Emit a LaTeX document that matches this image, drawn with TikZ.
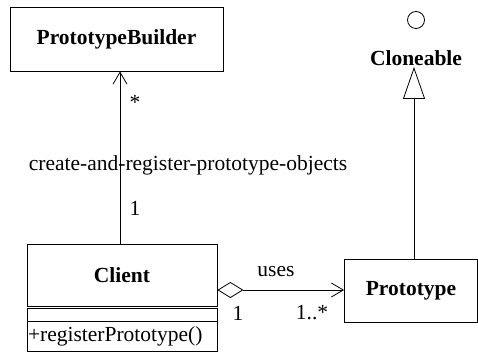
\documentclass[tikz,border=0pt]{standalone}
\usepackage{fontspec}
\setmainfont{Liberation Serif}
\usetikzlibrary{arrows.meta,calc}
\begin{document}
\begin{tikzpicture}[x=1pt,y=-1pt,
  line width=0.8pt,
  txt/.style={font=\fontsize{21.5}{24}\selectfont, inner sep=0pt},
  cls/.style={draw, rectangle, inner sep=0pt, font=\fontsize{21.5}{24}\selectfont\bfseries},
  assoc/.style={-{Straight Barb[length=12pt,width=14pt,line width=0.8pt]}},
  aggr/.style={{Diamond[open,length=26pt,width=16pt,line width=0.8pt]}-{Straight Barb[length=12pt,width=14pt,line width=0.8pt]}},
  realize/.style={-{Triangle[open,length=32pt,width=22pt,line width=0.8pt]}}]
\useasboundingbox (0,0) rectangle (478,352);

% classes
\node[cls, minimum width=213pt, minimum height=64pt] (builder) at (116.5,39) {PrototypeBuilder};
\node[cls, minimum width=190pt, minimum height=62pt] (clientname) at (122,275) {Client};
\node[draw, rectangle, inner sep=0pt, minimum width=190pt, minimum height=13pt] (clientattr) at (122,314.5) {};
\node[draw, rectangle, inner sep=0pt, minimum width=190pt, minimum height=30pt, txt] (clientops) at (122,336) {};
\node[txt, anchor=west, xshift=1pt] (opname) at (clientops.west) {+registerPrototype()};
\node[cls, minimum width=133pt, minimum height=63pt] (prototype) at (411,290.5) {Prototype};

% interface in lollipop notation
\node[draw, circle, minimum size=17pt, inner sep=0pt] (lolli) at (416,20) {};
\node[txt, font=\fontsize{21.5}{24}\selectfont\bfseries, inner sep=1pt] (cloneable) at (416,58) {Cloneable};

% connectors
\coordinate (linex) at (120,0);
\coordinate (genx) at (414,0);
\coordinate (aggy) at (0,290);
\draw[assoc] (clientname.north -| linex) -- (builder.south -| linex);
\draw[realize] (prototype.north -| genx) -- (genx |- cloneable.south);
\draw[aggr] (clientname.east |- aggy) -- (prototype.west |- aggy);

% labels
\node[txt] (lblname) at (188,165) {create-and-register-prototype-objects};
\node[txt] (mstar) at (135,102) {*};
\node[txt] (mone) at (135,208) {1};
\node[txt] (uses) at (276,272) {uses};
\node[txt] (aone) at (238,313) {1};
\node[txt] (amany) at (312,313) {1..*};
\end{tikzpicture}
\end{document}
